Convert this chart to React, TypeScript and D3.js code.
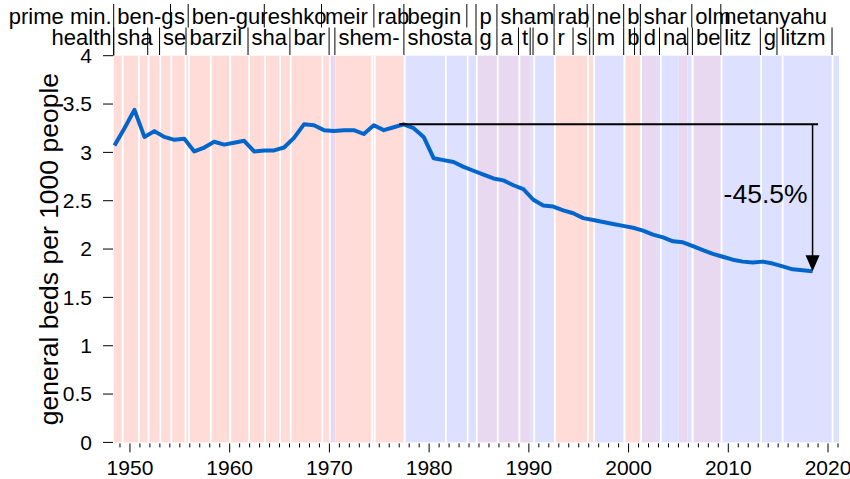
import React from 'react';
import * as d3 from 'd3';

const width = 850;
const height = 479;
const font = 'Liberation Sans, Arial, sans-serif';

// general hospital beds per 1000 people, one value per year from 1948
const firstYear = 1948;
const bedsPer1000 = [
  3.07, 3.25, 3.44, 3.16, 3.22, 3.16, 3.13, 3.14, 3.01, 3.05,
  3.11, 3.08, 3.10, 3.12, 3.01, 3.02, 3.02, 3.05, 3.15, 3.29,
  3.28, 3.23, 3.22, 3.23, 3.23, 3.19, 3.28, 3.23, 3.26, 3.29,
  3.25, 3.16, 2.94, 2.92, 2.90, 2.85, 2.81, 2.77, 2.73, 2.71,
  2.66, 2.62, 2.51, 2.45, 2.44, 2.40, 2.37, 2.32, 2.30, 2.28,
  2.26, 2.24, 2.22, 2.19, 2.15, 2.12, 2.08, 2.07, 2.03, 1.99,
  1.95, 1.92, 1.89, 1.87, 1.86, 1.87, 1.85, 1.82, 1.79, 1.78,
  1.77,
];
const refYear = 1977;
const refEndYear = 2019;
const changeLabel = '-45.5%';

// prime ministers (top row)
const pmStarts = [1948.37, 1954.07, 1955.84, 1963.47, 1969.21, 1974.46, 1977.47, 1983.78, 1984.7, 1986.8, 1992.53, 1995.85, 1996.46, 1999.51, 2001.18, 2006.34, 2009.25];
const pmLabels = ['ben-g', 's', 'ben-gur', 'eshko', 'meir', 'rab', 'begin', '', 'p', 'sham', 'rab', '', 'ne', 'b', 'shar', 'olm', 'netanyahu'];

// health ministers (second row)
const healthStarts = [1948.37, 1951.78, 1952.97, 1955.62, 1961.84, 1966.04, 1969.97, 1970.55, 1977.47, 1984.7, 1986.8, 1988.96, 1990.13, 1990.42, 1992.53, 1994.43, 1996.1, 1996.46, 1999.51, 2000.6, 2001.18, 2003.1, 2005.93, 2006.4, 2009.25, 2013.21, 2014.88, 2020.4];
const healthLabels = ['sha', '', 'se', 'barzil', 'sha', 'bar', '', 'shem-', 'shosta', 'g', 'a', 't', '', 'o', 'r', 's', '', 'm', 'b', '', 'd', 'na', '', 'be', 'litz', 'g', 'litzm', ''];

// government changes (white gaps)
const govStarts = [1949.19, 1950.83, 1951.78, 1952.97, 1954.07, 1955.49, 1955.84, 1958.02, 1959.97, 1961.87, 1963.47, 1964.97, 1966.04, 1969.21, 1969.96, 1974.2, 1974.46, 1977.47, 1981.6, 1983.78, 1984.7, 1986.8, 1988.97, 1990.45, 1992.53, 1995.85, 1996.46, 1999.51, 2001.18, 2003.16, 2006.34, 2009.25, 2013.21, 2015.37, 2020.38];

// coalition colouring
const coalitionStarts = [1948.37, 1969.96, 1970.6, 1977.47, 1984.7, 1990.2, 1992.53, 1996.46, 1999.51, 2001.18, 2002.84, 2005.03, 2005.9, 2006.34, 2009.25];
const coalitionKinds = ['left', 'unity', 'left', 'right', 'unity', 'right', 'left', 'right', 'left', 'unity', 'right', 'unity', 'right', 'unity', 'right'];
const domainEnd = 2021.1;

const kindColor: Record<string, string> = { left: '#ffdcd8', right: '#dde0ff', unity: '#e8d8f0' };

export default function App() {
  const x = d3.scaleLinear().domain([1948.37, domainEnd]).range([113.7, 839]);
  const y = d3.scaleLinear().domain([0, 4]).range([442.4, 55.7]);

  const px = (i: number) => x(firstYear + i + 0.45);
  const line = d3.line<number>().x((d, i) => px(i)).y(d => y(d));

  const refVal = bedsPer1000[refYear - firstYear];
  const lastI = bedsPer1000.length - 1;
  const ax = px(lastI);
  const yTop = y(refVal);
  const yEnd = y(bedsPer1000[lastI]);

  const yearTicks = d3.range(1949, 2022);

  return (
    <svg width={width} height={height} style={{ position: 'absolute', left: 0, top: 0, background: '#fff' }} fontFamily={font}>
      {coalitionStarts.map((s, i) => {
        const e = i < coalitionStarts.length - 1 ? coalitionStarts[i + 1] : domainEnd;
        return <rect key={'c' + i} x={x(s)} y={y(4)} width={x(e) - x(s)} height={y(0) - y(4)} fill={kindColor[coalitionKinds[i]]} />;
      })}
      {govStarts.map((g, i) => (
        <line key={'g' + i} x1={x(g) + 0.8} x2={x(g) + 0.8} y1={y(4)} y2={y(0)} stroke="#fff" strokeWidth={1.8} />
      ))}

      {y.ticks(8).map(t => (
        <g key={'y' + t}>
          <line x1={103} x2={113} y1={y(t)} y2={y(t)} stroke="#000" strokeWidth={1} />
          <text x={92} y={y(t)} dy="0.35em" textAnchor="end" fontSize={21}>{String(t)}</text>
        </g>
      ))}
      <text transform={`translate(57.5,${(y(0) + y(4)) / 2 + 0}) rotate(-90)`} textAnchor="middle" fontSize={26.5}>general beds per 1000 people</text>

      {yearTicks.map(t => (
        <line key={'x' + t} x1={x(t)} x2={x(t)} y1={y(0) + 1} y2={y(0) + (t % 10 === 0 ? 10 : 5)} stroke="#000" strokeWidth={1} />
      ))}
      {yearTicks.filter(t => t % 10 === 0).map(t => (
        <text key={'xl' + t} x={x(t)} y={475} textAnchor="middle" fontSize={21}>{t}</text>
      ))}

      <path d={line(bedsPer1000) || ''} fill="none" stroke="#0066cc" strokeWidth={4} strokeLinejoin="round" />

      <line x1={x(refYear)} x2={x(refEndYear)} y1={yTop} y2={yTop} stroke="#000" strokeWidth={2} />
      <line x1={ax} x2={ax} y1={yTop} y2={yEnd - 14} stroke="#000" strokeWidth={1.5} />
      <polygon points={`${ax - 7},${yEnd - 16} ${ax + 7},${yEnd - 16} ${ax},${yEnd}`} fill="#000" />
      <text x={ax - 5} y={(yTop + yEnd) / 2 + 5} textAnchor="end" fontSize={26.5}>{changeLabel}</text>

      <text x={111.5} y={24} textAnchor="end" fontSize={22}>prime min.</text>
      <text x={111.5} y={44.5} textAnchor="end" fontSize={22}>health</text>
      {pmStarts.map((s, i) => (
        <g key={'pm' + i}>
          <line x1={x(s)} x2={x(s)} y1={4} y2={i === 0 ? y(4) : 27.5} stroke="#000" strokeWidth={1} />
          <text x={x(s) + 3.5} y={24} fontSize={22}>{pmLabels[i]}</text>
        </g>
      ))}
      {healthStarts.map((s, i) => (
        <g key={'h' + i}>
          <line x1={x(s)} x2={x(s)} y1={27.5} y2={55} stroke="#000" strokeWidth={1} />
          <text x={x(s) + 3.5} y={44.5} fontSize={22}>{healthLabels[i]}</text>
        </g>
      ))}
    </svg>
  );
}
